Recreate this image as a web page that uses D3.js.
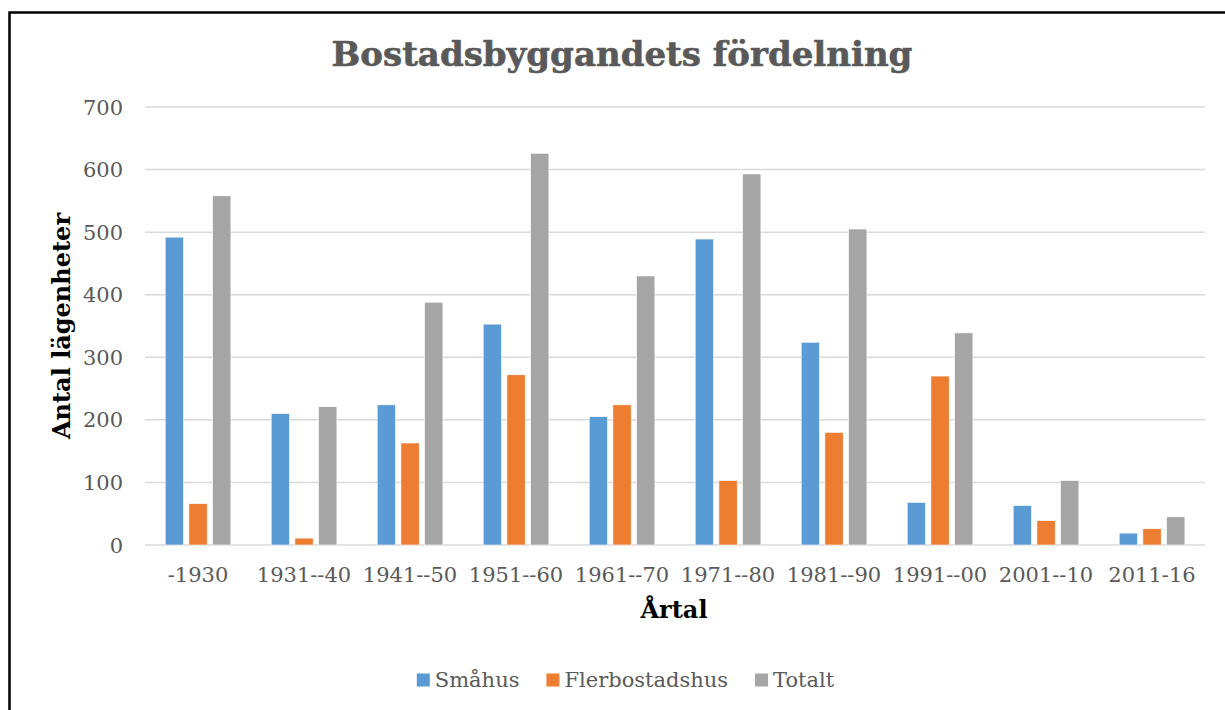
<!DOCTYPE html>
<html>
<head>
<meta charset="utf-8">
<script src="https://cdn.jsdelivr.net/npm/d3@7"></script>
<style>
  body { margin: 0; background: #fff; }
  text { font-family: "DejaVu Serif", serif; }
</style>
</head>
<body>
<svg id="chart" width="1225" height="710"></svg>
<script>
const periods = ['-1930', '1931--40', '1941--50', '1951--60', '1961--70', '1971--80', '1981--90', '1991--00', '2001--10', '2011-16'];
const smahus = [492, 210, 224, 353, 205, 489, 324, 68, 63, 19];
const flerbostadshus = [66, 11, 163, 272, 224, 103, 180, 270, 39, 26];
const totalt = [558, 221, 388, 626, 430, 593, 505, 339, 103, 45];
const seriesNames = ['Småhus', 'Flerbostadshus', 'Totalt'];
const yTicks = [0, 100, 200, 300, 400, 500, 600, 700];

const seriesValues = [smahus, flerbostadshus, totalt];
const colors = ['#5B9BD5', '#ED7D31', '#A5A5A5'];
const textGray = '#595959';

const svg = d3.select('#chart');

// outer frame (right and bottom edges fall outside the picture)
svg.append('rect')
  .attr('x', 9.5).attr('y', 12.5)
  .attr('width', 1240).attr('height', 720)
  .attr('fill', '#fff')
  .attr('stroke', '#000')
  .attr('stroke-width', 2.5);

const xscale = d3.scaleBand()
  .domain(periods)
  .range([145, 1205])
  .padding(0);

const subscale = d3.scaleBand()
  .domain(seriesNames)
  .range([20.2, 85.9])
  .paddingInner(0.228)
  .paddingOuter(0);

const yscale = d3.scaleLinear()
  .domain([0, 700])
  .range([545, 107]);

// gridlines
svg.append('g')
  .selectAll('line')
  .data(yTicks)
  .enter().append('line')
    .attr('x1', 145).attr('x2', 1205)
    .attr('y1', (d) => yscale(d)).attr('y2', (d) => yscale(d))
    .attr('stroke', '#D9D9D9')
    .attr('stroke-width', 1.5);

// y tick labels
svg.append('g')
  .selectAll('text')
  .data(yTicks)
  .enter().append('text')
    .attr('x', 123)
    .attr('y', (d) => yscale(d))
    .attr('dy', '0.36em')
    .attr('text-anchor', 'end')
    .attr('fill', textGray)
    .style('font-size', '21px')
    .text((d) => d);

// x tick labels
svg.append('g')
  .selectAll('text')
  .data(periods)
  .enter().append('text')
    .attr('x', (d) => xscale(d) + xscale.bandwidth() / 2)
    .attr('y', 582)
    .attr('text-anchor', 'middle')
    .attr('fill', textGray)
    .style('font-size', '21px')
    .text((d) => d);

// bars
const barData = [];
periods.forEach((p, i) => {
  seriesNames.forEach((s, j) => {
    barData.push({ period: p, series: s, value: seriesValues[j][i], color: colors[j] });
  });
});

svg.append('g')
  .selectAll('rect')
  .data(barData)
  .enter().append('rect')
    .attr('x', (d) => xscale(d.period) + subscale(d.series))
    .attr('y', (d) => yscale(d.value))
    .attr('width', subscale.bandwidth())
    .attr('height', (d) => yscale(0) - yscale(d.value))
    .attr('fill', (d) => d.color)
    .attr('stroke', '#fff')
    .attr('stroke-width', 0.6);

// title
svg.append('text')
  .attr('x', 622)
  .attr('y', 66)
  .attr('text-anchor', 'middle')
  .attr('fill', textGray)
  .attr('stroke', textGray)
  .attr('stroke-width', 0.6)
  .style('font-size', '34px')
  .style('font-weight', 'bold')
  .text('Bostadsbyggandets fördelning');

// axis titles
svg.append('text')
  .attr('transform', 'translate(70, 326) rotate(-90)')
  .attr('text-anchor', 'middle')
  .attr('fill', '#000')
  .style('font-size', '24px')
  .style('font-weight', 'bold')
  .text('Antal lägenheter');

svg.append('text')
  .attr('x', 674)
  .attr('y', 618)
  .attr('text-anchor', 'middle')
  .attr('fill', '#000')
  .style('font-size', '24px')
  .style('font-weight', 'bold')
  .text('Årtal');

// legend
const legend = svg.append('g');
const items = legend.selectAll('g')
  .data(seriesNames)
  .enter().append('g');

items.append('rect')
  .attr('width', 13).attr('height', 13)
  .attr('y', 673.5)
  .attr('fill', (d, i) => colors[i]);

items.append('text')
  .attr('x', 18)
  .attr('y', 687)
  .attr('fill', textGray)
  .style('font-size', '21px')
  .text((d) => d);

let offsets = [];
let cursor = 0;
items.each(function () {
  const w = d3.select(this).select('text').node().getComputedTextLength();
  offsets.push(cursor);
  cursor += 18 + w + 27;
});
const legendWidth = cursor - 27;
const legendStart = 625.5 - legendWidth / 2;
items.attr('transform', (d, i) => `translate(${legendStart + offsets[i]}, 0)`);
</script>
</body>
</html>
